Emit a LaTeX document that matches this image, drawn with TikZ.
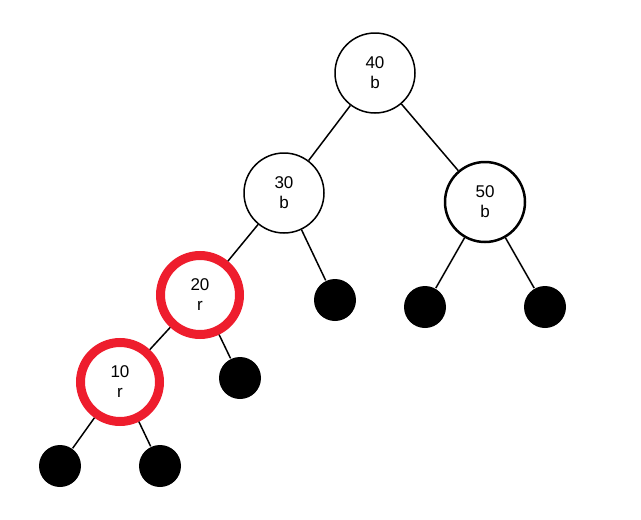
\documentclass[tikz,border=0pt]{standalone}
\usepackage{fontspec}
\setmainfont{Liberation Sans}
\usepackage{xcolor}
\definecolor{rbred}{RGB}{238,29,45}

\begin{document}
\begin{tikzpicture}[x=1pt,y=-1pt,line width=1.5pt,
	key/.style={circle,draw,minimum size=80pt,inner sep=0pt,align=center,font=\fontsize{17}{20}\selectfont},
	redkey/.style={key,draw=rbred,line width=9pt,minimum size=79pt},
	leaf/.style={circle,fill=black,minimum size=42pt,inner sep=0pt}]
	\useasboundingbox (0,0) rectangle (641,520);

	\node[key] (n40) at (375,73) {40\\b};
	\node[key] (n30) at (284,193) {30\\b};
	\node[key,line width=2.5pt] (n50) at (485,202) {50\\b};
	\node[redkey] (n20) at (200,295) {20\\r};
	\node[redkey] (n10) at (120,382) {10\\r};

	\node[leaf] (l30) at (335,300) {};
	\node[leaf] (l50a) at (425,307) {};
	\node[leaf] (l50b) at (545,307) {};
	\node[leaf] (l20) at (240,378) {};
	\node[leaf] (l10a) at (60,466) {};
	\node[leaf] (l10b) at (160,466) {};

	\draw 	(n40) edge (n30)
			(n40) edge (n50)
			(n30) edge (n20)
			(n30) edge (l30)
			(n50) edge (l50a)
			(n50) edge (l50b)
			(n20) edge (n10)
			(n20) edge (l20)
			(n10) edge (l10a)
			(n10) edge (l10b);
\end{tikzpicture}
\end{document}
